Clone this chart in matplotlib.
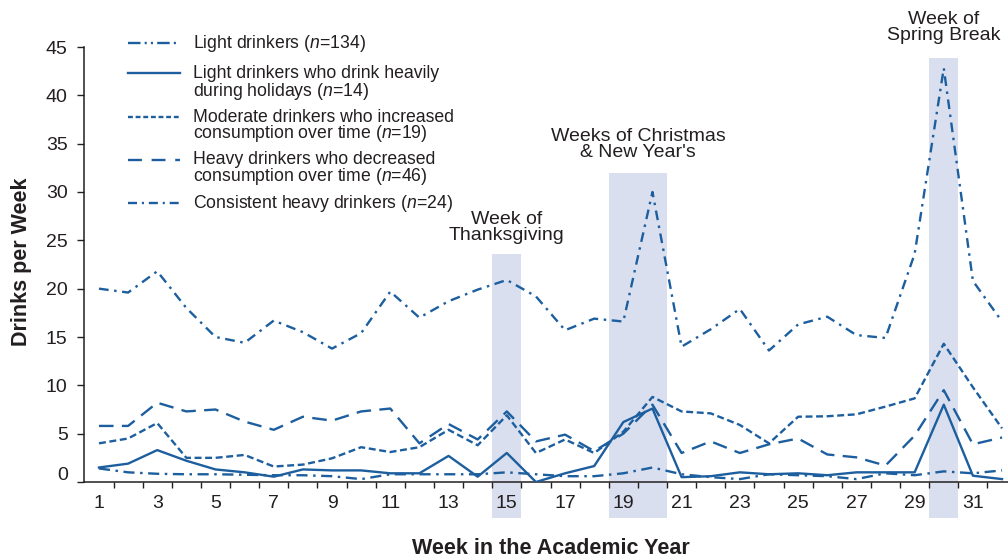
import matplotlib
matplotlib.use("Agg")
import matplotlib.pyplot as plt
import matplotlib.transforms as mtransforms
from matplotlib.lines import Line2D
import numpy as np

plt.rcParams['font.family'] = ['Liberation Sans', 'DejaVu Sans']
plt.rcParams['mathtext.fontset'] = 'custom'
plt.rcParams['mathtext.rm'] = 'Liberation Sans'
plt.rcParams['mathtext.it'] = 'Liberation Sans:italic'
plt.rcParams['lines.scale_dashes'] = False

# ---------------- data ----------------
weeks = list(range(1, 33))

consistent_heavy = [20.0, 19.6, 21.8, 18.0, 15.0, 14.4, 16.7, 15.5, 13.8, 15.4,
                    19.7, 17.0, 18.7, 19.9, 20.9, 19.2, 15.7, 16.9, 16.6, 30.0,
                    14.0, 15.8, 17.9, 13.6, 16.3, 17.1, 15.2, 14.9, 23.6, 42.8,
                    20.8, 16.6]
light_holiday = [1.5, 1.9, 3.3, 2.2, 1.3, 1.0, 0.55, 1.3, 1.2, 1.2,
                 0.9, 0.9, 2.7, 0.55, 3.0, 0.0, 0.9, 1.65, 6.2, 7.6,
                 0.5, 0.6, 1.0, 0.8, 0.9, 0.7, 1.0, 1.0, 1.0, 8.0,
                 0.65, 0.3]
light = [1.4, 1.0, 0.85, 0.8, 0.8, 0.75, 0.7, 0.7, 0.6, 0.3,
         0.8, 0.8, 0.8, 0.8, 1.0, 0.8, 0.6, 0.6, 0.9, 1.5,
         0.8, 0.5, 0.3, 0.8, 0.7, 0.6, 0.3, 0.9, 0.7, 1.1,
         0.9, 1.2]
moderate_increase = [4.0, 4.5, 6.1, 2.5, 2.5, 2.8, 1.6, 1.8, 2.45, 3.6,
                     3.1, 3.6, 5.4, 3.8, 6.9, 3.0, 4.4, 3.0, 5.2, 8.8,
                     7.3, 7.1, 5.9, 4.0, 6.75, 6.8, 7.0, 7.8, 8.65, 14.3,
                     9.8, 5.55]
heavy_decrease = [5.8, 5.8, 8.2, 7.3, 7.5, 6.25, 5.4, 6.75, 6.35, 7.3,
                  7.6, 4.0, 6.0, 4.4, 7.3, 4.2, 4.9, 3.2, 5.0, 8.0,
                  3.0, 4.2, 3.0, 3.9, 4.5, 2.85, 2.55, 1.7, 4.8, 9.5,
                  3.9, 4.6]

labels = [
    ["Light drinkers ($\\mathit{n}$=134)"],
    ["Light drinkers who drink heavily", "during holidays ($\\mathit{n}$=14)"],
    ["Moderate drinkers who increased", "consumption over time ($\\mathit{n}$=19)"],
    ["Heavy drinkers who decreased", "consumption over time ($\\mathit{n}$=46)"],
    ["Consistent heavy drinkers ($\\mathit{n}$=24)"],
]

band_start = [15, 19, 30]
band_end = [15, 20, 30]
band_top = [23.6, 32.0, 43.9]
band_labels = ["Week of\nThanksgiving", "Weeks of Christmas\n& New Year's", "Week of\nSpring Break"]
band_label_y = [26.3, 34.9, 47.0]

yticks = list(range(0, 50, 5))
xtick_labels = list(range(1, 33, 2))

# ---------------- style ----------------
C = '#1c5e9e'
TXT = '#231f20'
BAND = '#d9dfee'
LW = 1.7

W, H = 1008, 558
fig = plt.figure(figsize=(W / 100, H / 100), dpi=100)
x0_px, x1_px = 84.4, 1016.6
y_top_px, y_bot_px = 47.0, 482.0
ax = fig.add_axes([x0_px / W, 1 - y_bot_px / H, (x1_px - x0_px) / W, (y_bot_px - y_top_px) / H])
ax.set_xlim(0.5, 32.5)
ax.set_ylim(0, 45)

# bands
band_bottom = -3.72
for s, e, t, lab, ly in zip(band_start, band_end, band_top, band_labels, band_label_y):
    ax.bar((s + e) / 2, t - band_bottom, width=(e - s + 1), bottom=band_bottom,
           color=BAND, edgecolor='none', zorder=0.5, clip_on=False)
    ax.text((s + e) / 2, ly, lab, ha='center', va='center', fontsize=14,
            color=TXT, linespacing=0.95, clip_on=False)

styles = {
    'light': (0, (8, 4, 1.8, 4)),
    'holiday': '-',
    'moderate': (0, (5, 2.6)),
    'heavy': (0, (10.5, 6)),
    'consistent': (0, (7, 4, 1.8, 4)),
}
ax.plot(weeks, light, color=C, lw=LW, linestyle=styles['light'], zorder=3)
ax.plot(weeks, light_holiday, color=C, lw=LW, linestyle=styles['holiday'], zorder=3)
ax.plot(weeks, moderate_increase, color=C, lw=LW, linestyle=styles['moderate'], zorder=3)
ax.plot(weeks, heavy_decrease, color=C, lw=LW, linestyle=styles['heavy'], zorder=3)
ax.plot(weeks, consistent_heavy, color=C, lw=LW, linestyle=styles['consistent'], zorder=3)

# axes
for sp in ['top', 'right']:
    ax.spines[sp].set_visible(False)
for sp in ['left', 'bottom']:
    ax.spines[sp].set_color(TXT)
    ax.spines[sp].set_linewidth(1.1)

ax.set_yticks(yticks, [str(v) for v in yticks])
ax.tick_params(axis='y', length=5, width=1.0, color=TXT, labelsize=14, labelcolor=TXT, pad=7)
ax.set_xticks(xtick_labels, [str(v) for v in xtick_labels])
ax.set_xticks(np.arange(1.5, 32.5, 1.0), minor=True)
ax.tick_params(axis='x', which='major', length=0, labelsize=14, labelcolor=TXT, pad=9)
ax.tick_params(axis='x', which='minor', length=4, width=1.0, color=TXT)

# shift "0" label up as in the reference
ylabs = ax.get_yticklabels()
off = mtransforms.ScaledTranslation(0, 9 / 100, fig.dpi_scale_trans)
ylabs[0].set_transform(ylabs[0].get_transform() + off)

fig.text(22 / W, 1 - 262 / H, 'Drinks per Week', rotation=90, ha='center', va='center',
         fontsize=15.5, fontweight='bold', color=TXT)
fig.text(551 / W, 1 - 548 / H, 'Week in the Academic Year', ha='center', va='center',
         fontsize=15.5, fontweight='bold', color=TXT)

# manual legend
leg_styles = [(0, (9, 3, 1.5, 3, 1.5, 3)), '-', (0, (3.5, 2)), (0, (10, 7)), (0, (6.5, 3.5, 1.5, 3.5))]
leg_y = [[43], [73, 91], [117, 134], [160, 177], [203]]
for ls, lines, ys in zip(leg_styles, labels, leg_y):
    fig.add_artist(Line2D([128 / W, 180 / W], [1 - ys[0] / H, 1 - ys[0] / H],
                          transform=fig.transFigure, color=C, lw=LW, linestyle=ls))
    for txt, y in zip(lines, ys):
        fig.text(193 / W, 1 - y / H, txt, ha='left', va='center', fontsize=12.7, color=TXT)

fig.savefig('out.png', dpi=100)
